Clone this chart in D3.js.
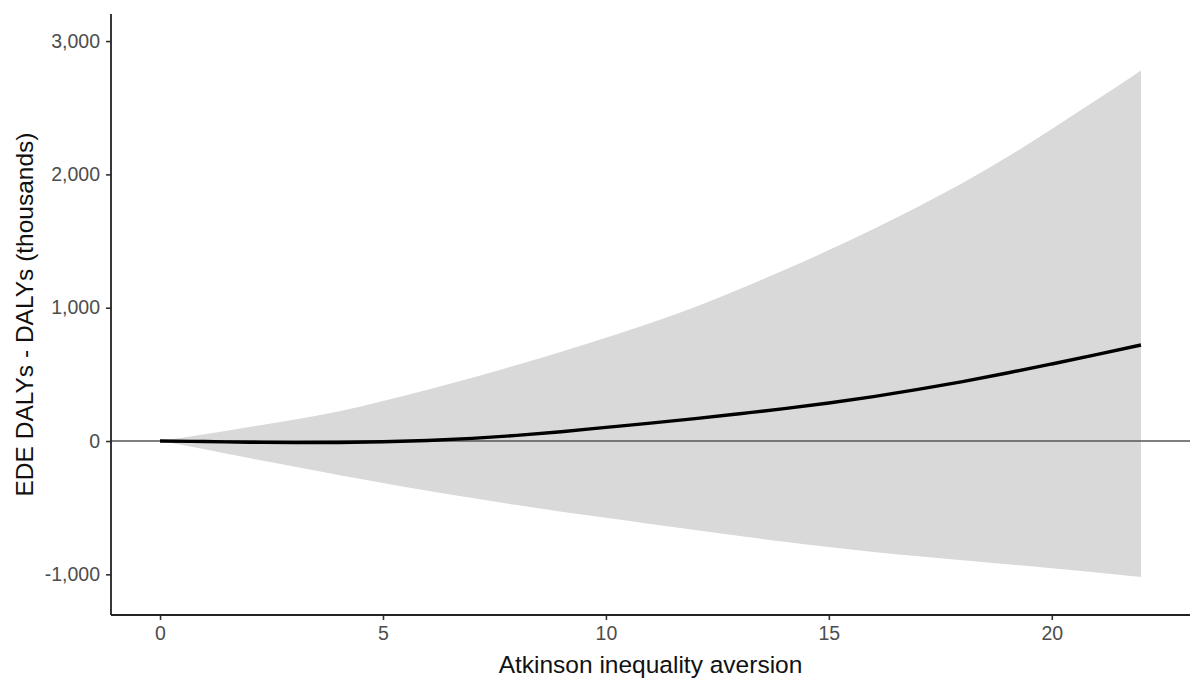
<!DOCTYPE html>
<html>
<head>
<meta charset="utf-8">
<script src="https://cdn.jsdelivr.net/npm/d3@7"></script>
<style>
  body { margin: 0; background: #fff; }
  svg { display: block; font-family: "Liberation Sans", Arial, sans-serif; }
</style>
</head>
<body>
<div id="chart"></div>
<script>
// Atkinson inequality aversion (x) and EDE DALYs - DALYs, thousands (y)
const aversion = [0, 1, 2, 3, 4, 5, 6, 7, 8, 9, 10, 11, 12, 13, 14, 15, 16, 17, 18, 19, 20, 21, 22];
const estimate = [0, -4, -9, -12, -11, -6, 4, 20, 42, 70, 102, 134, 168, 205, 243, 285, 333, 387, 446, 510, 578, 648, 720];
const upper = [0, 50, 105, 160, 222, 300, 385, 475, 570, 670, 775, 885, 1005, 1140, 1282, 1432, 1590, 1757, 1935, 2130, 2340, 2557, 2780];
const lower = [0, -62, -128, -192, -255, -315, -373, -428, -480, -530, -576, -622, -668, -713, -755, -795, -832, -865, -895, -925, -955, -987, -1020];
const xTicks = [0, 5, 10, 15, 20];
const yTicks = [-1000, 0, 1000, 2000, 3000];

const W = 1190, H = 680;
const panel = { left: 111, right: 1190, top: 14, bottom: 615 };

const rows = aversion.map((a, i) => ({ a, est: estimate[i], lo: lower[i], hi: upper[i] }));

const svg = d3.select('#chart').append('svg')
    .attr('width', W)
    .attr('height', H);

const x = d3.scaleLinear()
    .domain([-1.1, 23.1])
    .range([panel.left, panel.right]);

const y = d3.scaleLinear()
    .domain([-1305, 3203])
    .range([panel.bottom, panel.top]);

// ribbon
svg.append('path')
    .datum(rows)
    .attr('fill', '#d9d9d9')
    .attr('d', d3.area()
        .x(d => x(d.a))
        .y0(d => y(d.lo))
        .y1(d => y(d.hi))
        .curve(d3.curveMonotoneX));

// zero reference line
svg.append('line')
    .attr('x1', panel.left)
    .attr('x2', panel.right)
    .attr('y1', y(0))
    .attr('y2', y(0))
    .attr('stroke', '#555')
    .attr('stroke-width', 1.6);

// estimate
svg.append('path')
    .datum(rows)
    .attr('fill', 'none')
    .attr('stroke', '#000')
    .attr('stroke-width', 3.4)
    .attr('d', d3.line()
        .x(d => x(d.a))
        .y(d => y(d.est))
        .curve(d3.curveMonotoneX));

// axes (plain hyphen for negatives, like the original)
const commaFmt = d3.format(',');
const yFmt = v => commaFmt(v).replace('\u2212', '-');

const xAxis = svg.append('g')
    .attr('transform', `translate(0,${panel.bottom})`)
    .call(d3.axisBottom(x).tickValues(xTicks).tickSize(5).tickPadding(6).tickFormat(d3.format('d')));

const yAxis = svg.append('g')
    .attr('transform', `translate(${panel.left},0)`)
    .call(d3.axisLeft(y).tickValues(yTicks).tickSize(5).tickPadding(6).tickFormat(yFmt));

[xAxis, yAxis].forEach(g => {
    g.select('.domain').remove();
    g.selectAll('.tick line').attr('stroke', '#333').attr('stroke-width', 1.6);
    g.selectAll('.tick text')
        .attr('fill', '#4d4d4d')
        .style('font-size', '19.5px')
        .style('font-family', '"Liberation Sans", Arial, sans-serif');
});

svg.append('line')
    .attr('x1', panel.left).attr('x2', panel.right)
    .attr('y1', panel.bottom).attr('y2', panel.bottom)
    .attr('stroke', '#222').attr('stroke-width', 1.8);

svg.append('line')
    .attr('x1', panel.left).attr('x2', panel.left)
    .attr('y1', panel.top).attr('y2', panel.bottom)
    .attr('stroke', '#222').attr('stroke-width', 1.8);

// axis titles
svg.append('text')
    .attr('x', (panel.left + panel.right) / 2)
    .attr('y', 673)
    .attr('text-anchor', 'middle')
    .attr('fill', '#111')
    .style('font-size', '24.5px')
    .text('Atkinson inequality aversion');

svg.append('text')
    .attr('transform', `translate(33,${(panel.top + panel.bottom) / 2}) rotate(-90)`)
    .attr('text-anchor', 'middle')
    .attr('fill', '#111')
    .style('font-size', '24.5px')
    .text('EDE DALYs - DALYs (thousands)');
</script>
</body>
</html>
